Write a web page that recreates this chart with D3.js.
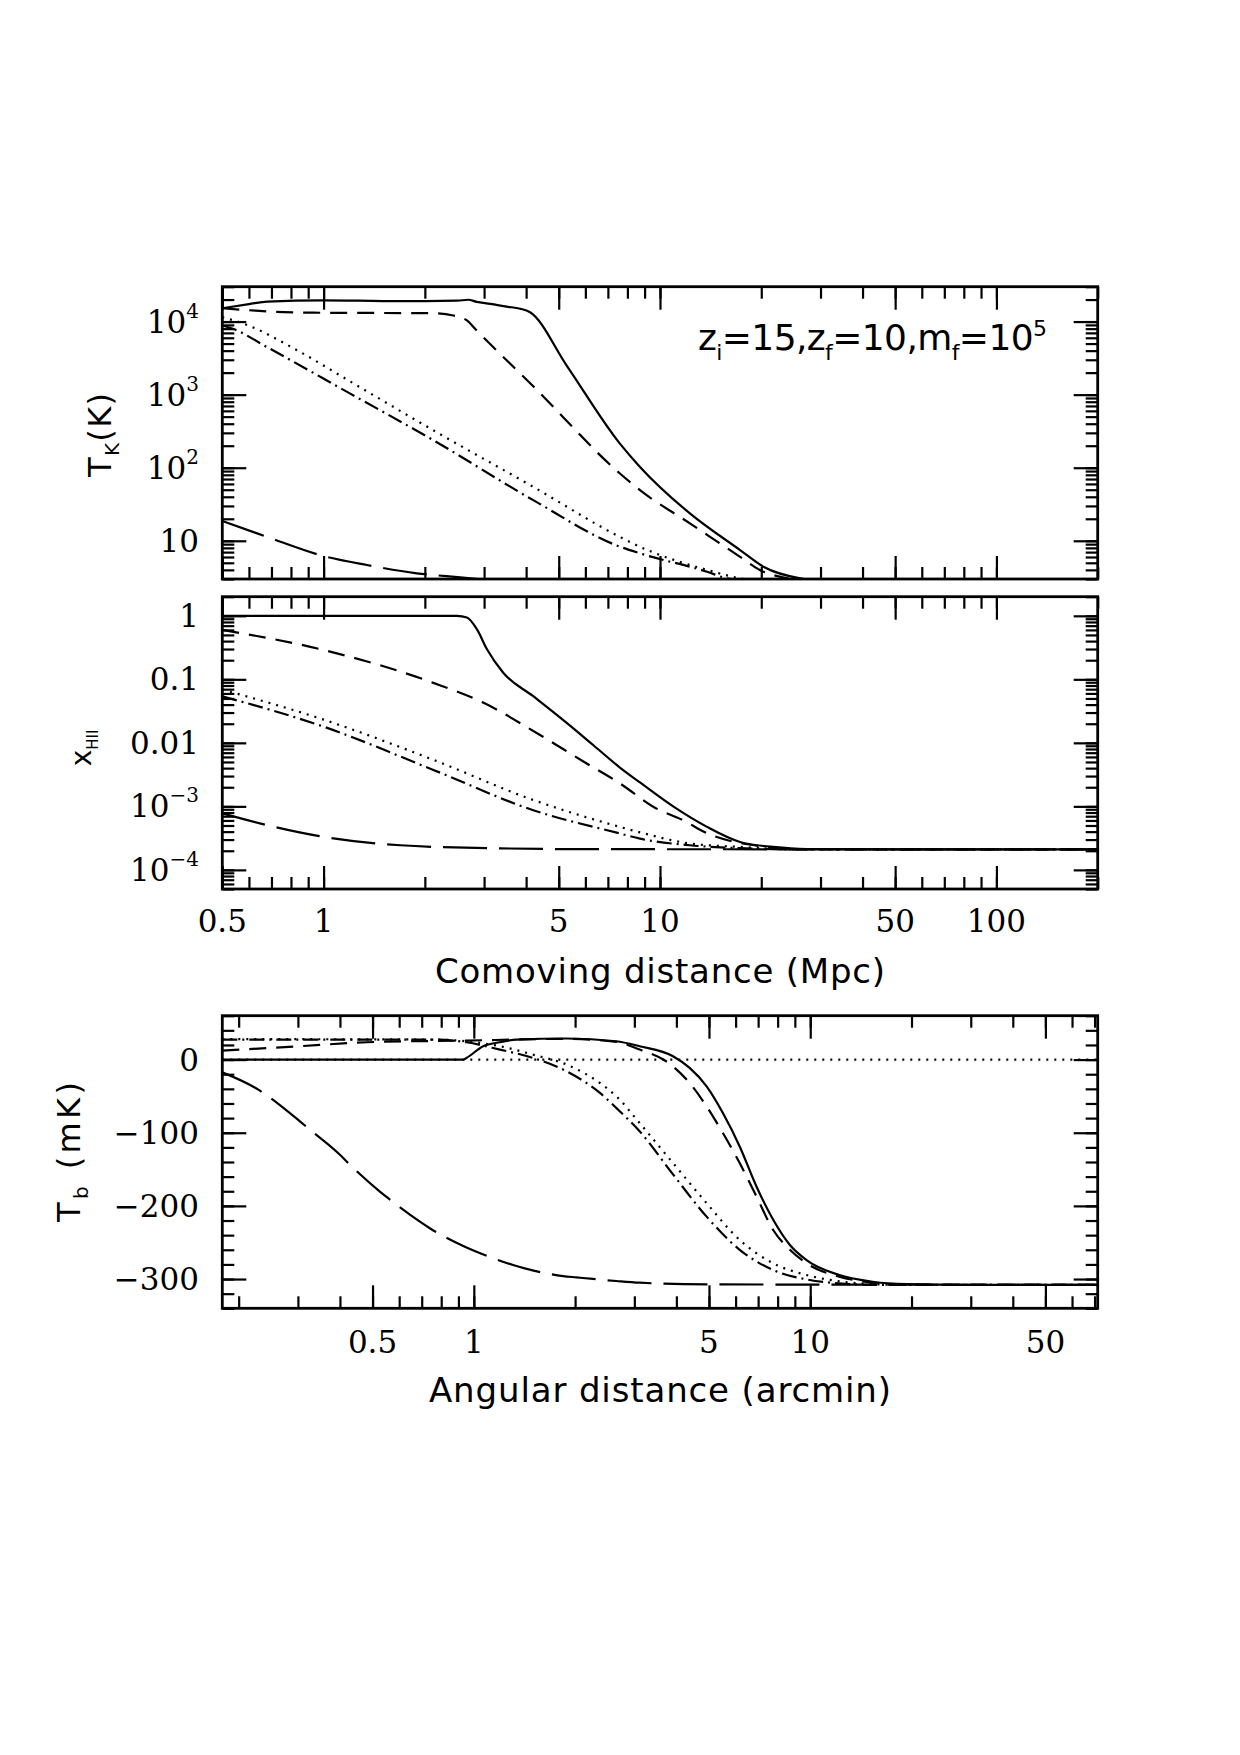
<!DOCTYPE html>
<html>
<head>
<meta charset="utf-8">
<script src="https://cdnjs.cloudflare.com/ajax/libs/d3/7.8.5/d3.min.js"></script>
<style>
body { margin: 0; background: #fff; }
svg { display: block; }
</style>
</head>
<body>
<div id="chart"></div>
<script>
// Width and height
var chart_width  = 1240;
var chart_height = 1755;
var plot_left    = 222.3;
var plot_right   = 1097.7;

// axis ranges
var dist_domain = [0.5, 200];
var ang_domain  = [0.1788, 71.52];
var tk_domain   = [3, 3e4];
var xhii_domain = [5e-5, 2];
var tb_domain   = [-340, 60];

// tick labels
var dist_ticks  = [0.5, 1, 5, 10, 50, 100];
var dist_labels = ['0.5', '1', '5', '10', '50', '100'];
var ang_ticks   = [0.5, 1, 5, 10, 50];
var ang_labels  = ['0.5', '1', '5', '10', '50'];
var tk_ticks    = [10, 100, 1000, 10000];
var tk_labels   = [['10', ''], ['10', '2'], ['10', '3'], ['10', '4']];
var xhii_ticks  = [1, 0.1, 0.01, 1e-3, 1e-4];
var xhii_labels = [['1', ''], ['0.1', ''], ['0.01', ''], ['10', '\u22123'], ['10', '\u22124']];
var tb_ticks    = [0, -100, -200, -300];
var tb_labels   = ['0', '\u2212100', '\u2212200', '\u2212300'];

// Kinetic temperature T_K (K) vs comoving distance (Mpc)
var tk_solid = [[0.5,15200],[0.6,17300],[0.68,18800],[1.0,19500],[1.5,19100],[2.0,19000],[2.5,19300],
    [2.69,19900],[2.85,18600],[3.13,17500],[3.5,16000],[3.84,15000],[4.11,13400],[5.28,2500],
    [7.6,214],[8.72,102.6],[12.27,23.7],[17.3,7.47],[20.3,4.41],[26.1,3.06],[28,2.9]];
var tk_dashed = [[0.5,15200],[0.6,14300],[0.761,13440],[1.0,13200],[1.5,13100],[2.12,13030],
    [2.43,12110],[2.667,10350],[2.855,7500],[4.2,1300],[7.6,83.4],[8.72,49.3],[12.27,17.3],
    [17.3,6.04],[19.8,3.98],[24.3,3.0],[25,2.9]];
var tk_dotted = [[0.5,11480],[0.579,9340],[0.853,3820],[1.2,1515],[2.12,325],[4.2,54.7],
    [7.6,11.3],[8.72,8.28],[13.8,4.0],[17.3,3.06],[18.5,2.9]];
var tk_dashdot = [[0.5,8850],[0.54,7900],[0.679,4470],[1.2,1032],[2.12,238],[4.2,36],
    [7.6,8.3],[8.72,6.73],[13.8,3.77],[15.8,3.06],[17,2.9]];
var tk_longdash = [[0.5,18.7],[0.679,11.3],[1.0,6.18],[1.346,4.66],[1.893,3.59],[2.55,3.16],[3.0,2.95]];

// Ionized fraction x_HII vs comoving distance (Mpc)
var xhii_solid = [[0.5,1],[2.49,1],[2.667,0.94],[2.855,0.616],[3.06,0.297],[3.42,0.127],
    [4.2,0.0542],[5.28,0.0206],[6.34,0.00916],[7.6,0.00409],[8.72,0.00238],[10.97,9.9e-4],
    [13.8,4.75e-4],[17.3,2.75e-4],[21.7,2.3e-4],[27.3,2.13e-4],[50,2.1e-4],[200,2.1e-4]];
var xhii_dashed = [[0.5,0.6],[1,0.29],[2.12,0.088],[2.99,0.0427],[4.3,0.0143],[5.92,0.00508],
    [7.6,0.0023],[9.6,9.7e-4],[11.9,5.8e-4],[13.5,3.97e-4],[16.2,2.85e-4],[19.4,2.41e-4],
    [22.7,2.15e-4],[30,2.1e-4],[200,2.1e-4]];
var xhii_dotted = [[0.5,0.069],[1,0.0232],[2.12,0.0054],[4.2,1.26e-3],[7.6,4.75e-4],[8.72,3.9e-4],
    [12.27,2.6e-4],[17.3,2.3e-4],[25,2.1e-4],[200,2.1e-4]];
var xhii_dashdot = [[0.5,0.054],[1,0.018],[2.12,3.75e-3],[4.2,8.7e-4],[7.6,3.74e-4],[8.72,3.1e-4],
    [12.27,2.44e-4],[17.3,2.2e-4],[25,2.1e-4],[200,2.1e-4]];
var xhii_longdash = [[0.5,7.75e-4],[0.679,5.06e-4],[1,3.31e-4],[1.69,2.44e-4],[3.35,2.18e-4],
    [6,2.12e-4],[200,2.1e-4]];

// Brightness temperature T_b (mK) vs angular distance (arcmin)
var tb_zero = [[0.1788,0],[71.52,0]];
var tb_solid = [[0.1788,0],[0.929,0],[0.951,2.3],[1.066,18.3],[1.195,23.7],[1.34,27.4],[1.886,28.8],
    [2.65,25.1],[3.11,18.3],[3.91,4.6],[4.38,-11.4],[4.92,-36.5],[5.5,-73],[6.17,-118.7],
    [6.92,-173.5],[7.76,-219],[8.7,-253.4],[9.75,-274],[12.2,-294.5],[15.34,-303.7],
    [19.25,-307],[30,-308],[71.52,-308]];
var tb_dashed = [[0.1788,12.3],[0.304,18.3],[0.48,23.7],[0.951,26],[1.886,28.3],[2.65,24.2],
    [3.11,13.7],[3.73,-2.3],[4.38,-32],[4.92,-64],[5.5,-100.4],[6.17,-141.5],[6.92,-187],
    [7.76,-233],[8.7,-260],[9.75,-278.5],[12.2,-296.8],[15.34,-305],[19.25,-308],[71.52,-308]];
var tb_dotted = [[0.1788,28],[0.757,27.4],[0.951,25],[1.195,18.3],[1.5,6.8],[1.886,-6.8],
    [2.37,-32],[2.65,-50],[3.11,-86.7],[3.91,-141.5],[4.92,-196.3],[6.17,-246.6],[7.76,-278.5],
    [9.75,-294.5],[12.2,-303],[15.34,-307],[20,-308],[71.52,-308]];
var tb_dashdot = [[0.1788,27.4],[0.757,27.4],[0.951,23.7],[1.195,13.7],[1.5,2.3],[1.886,-16],
    [2.37,-45.6],[2.65,-66],[3.11,-98],[3.91,-157],[4.92,-214.7],[6.17,-260],[7.76,-287.7],
    [9.75,-300.5],[12.2,-306],[15.34,-308],[71.52,-308]];
var tb_longdash = [[0.1788,-17.4],[0.2288,-41.1],[0.2449,-50.3],[0.3042,-84.5],[0.3258,-95.9],
    [0.3999,-130.1],[0.4233,-141.5],[0.5257,-180.4],[0.5565,-189.5],[0.6913,-221.5],[0.74,-230.5],
    [0.9403,-255.8],[1.0186,-262.6],[1.308,-280.8],[1.417,-285.4],[1.842,-295.9],[2.018,-297.7],
    [2.653,-302.7],[3.11,-305],[4.92,-307.3],[71.52,-308]];

// line styles
var dash = {
    solid: null,
    dashed: '17,10',
    dotted: '2,6',
    dashdot: '15,5,2,5',
    longdash: '44,12'
};

var serif = '"DejaVu Serif", serif';
var sans  = '"DejaVu Sans", sans-serif';

// Create SVG
var svg = d3.select('#chart')
    .append('svg')
    .attr('width', chart_width)
    .attr('height', chart_height);

svg.append('rect').attr('width', chart_width).attr('height', chart_height).attr('fill', '#fff');

var x_dist = d3.scaleLog().domain(dist_domain).range([plot_left, plot_right]);
var x_ang  = d3.scaleLog().domain(ang_domain).range([plot_left, plot_right]);
var y_tk   = d3.scaleLog().domain(tk_domain).range([579, 286.7]);
var y_xhii = d3.scaleLog().domain(xhii_domain).range([889, 596.7]);
var y_tb   = d3.scaleLinear().domain(tb_domain).range([1308.3, 1015.7]);

function log_minor(scale){
    var d = scale.domain(), out = [];
    for (var e = Math.floor(Math.log10(d[0])); e <= Math.ceil(Math.log10(d[1])); e++){
        for (var m = 1; m <= 9; m++){
            var v = +(m * Math.pow(10, e)).toPrecision(6);
            if (v >= d[0] * 0.999 && v <= d[1] * 1.001) out.push(v);
        }
    }
    return out;
}

function add_ticks(g, axis, pos, values, len){
    var a = axis.tickValues(values).tickSize(-len).tickFormat('');
    var t = g.append('g').attr('transform', pos).call(a);
    t.select('.domain').remove();
    t.selectAll('line').attr('stroke', '#000').attr('stroke-width', 2.2);
}

function draw_panel(x, y, x_major, x_minor, y_major, y_minor, series, id){
    var r = x.range(), yr = y.range();
    var top = yr[1], bottom = yr[0];
    var g = svg.append('g');

    svg.append('clipPath').attr('id', id)
        .append('rect')
        .attr('x', r[0]).attr('y', top)
        .attr('width', r[1] - r[0]).attr('height', bottom - top);

    [[x_minor, 12], [x_major, 23]].forEach(function(p){
        add_ticks(g, d3.axisBottom(x), 'translate(0,' + bottom + ')', p[0], p[1]);
        add_ticks(g, d3.axisTop(x), 'translate(0,' + top + ')', p[0], p[1]);
    });
    [[y_minor, 12], [y_major, 24]].forEach(function(p){
        add_ticks(g, d3.axisLeft(y), 'translate(' + r[0] + ',0)', p[0], p[1]);
        add_ticks(g, d3.axisRight(y), 'translate(' + r[1] + ',0)', p[0], p[1]);
    });

    var line = d3.line()
        .x(function(d){ return x(d[0]); })
        .y(function(d){ return y(d[1]); })
        .curve(d3.curveMonotoneX);

    g.append('g').attr('clip-path', 'url(#' + id + ')')
        .selectAll('path')
        .data(series)
        .enter()
        .append('path')
        .attr('d', function(d){ return line(d.data); })
        .attr('fill', 'none')
        .attr('stroke', '#000')
        .attr('stroke-width', 2.2)
        .attr('stroke-dasharray', function(d){ return dash[d.style]; });

    g.append('rect')
        .attr('x', r[0]).attr('y', top)
        .attr('width', r[1] - r[0]).attr('height', bottom - top)
        .attr('fill', 'none')
        .attr('stroke', '#000')
        .attr('stroke-width', 2.8);
}

var tb_minor = d3.range(tb_domain[0], tb_domain[1] + 1, 20);

draw_panel(x_dist, y_tk, dist_ticks, log_minor(x_dist), tk_ticks, log_minor(y_tk), [
    {data: tk_solid, style: 'solid'},
    {data: tk_dashed, style: 'dashed'},
    {data: tk_dotted, style: 'dotted'},
    {data: tk_dashdot, style: 'dashdot'},
    {data: tk_longdash, style: 'longdash'}
], 'clip1');

draw_panel(x_dist, y_xhii, dist_ticks, log_minor(x_dist), xhii_ticks, log_minor(y_xhii), [
    {data: xhii_solid, style: 'solid'},
    {data: xhii_dashed, style: 'dashed'},
    {data: xhii_dotted, style: 'dotted'},
    {data: xhii_dashdot, style: 'dashdot'},
    {data: xhii_longdash, style: 'longdash'}
], 'clip2');

draw_panel(x_ang, y_tb, ang_ticks, log_minor(x_ang), tb_ticks, tb_minor, [
    {data: tb_zero, style: 'dotted'},
    {data: tb_solid, style: 'solid'},
    {data: tb_dashed, style: 'dashed'},
    {data: tb_dotted, style: 'dotted'},
    {data: tb_dashdot, style: 'dashdot'},
    {data: tb_longdash, style: 'longdash'}
], 'clip3');

// y tick labels (with optional superscript)
function y_labels(y, ticks, labels){
    ticks.forEach(function(v, i){
        var lab = labels[i];
        var t = svg.append('text')
            .attr('x', 199)
            .attr('y', y(v))
            .attr('text-anchor', 'end')
            .attr('dominant-baseline', 'central')
            .style('font-family', serif)
            .style('font-size', '31px');
        if (typeof lab === 'string'){
            t.text(lab);
        } else {
            t.append('tspan').text(lab[0]);
            if (lab[1]) t.append('tspan').attr('dy', -11).style('font-size', '20px').text(lab[1]);
        }
    });
}
y_labels(y_tk, tk_ticks, tk_labels);
y_labels(y_xhii, xhii_ticks, xhii_labels);
y_labels(y_tb, tb_ticks, tb_labels);

// x tick labels
function x_labels(x, ticks, labels, base){
    svg.selectAll(null)
        .data(ticks)
        .enter()
        .append('text')
        .attr('x', function(d){ return x(d); })
        .attr('y', base)
        .attr('text-anchor', 'middle')
        .style('font-family', serif)
        .style('font-size', '31px')
        .text(function(d, i){ return labels[i]; });
}
x_labels(x_dist, dist_ticks, dist_labels, 932);
x_labels(x_ang, ang_ticks, ang_labels, 1353);

// axis titles
svg.append('text')
    .attr('x', 660).attr('y', 983)
    .attr('text-anchor', 'middle')
    .attr('textLength', 450).attr('lengthAdjust', 'spacing')
    .style('font-family', sans).style('font-size', '34px')
    .text('Comoving distance (Mpc)');

svg.append('text')
    .attr('x', 660).attr('y', 1402)
    .attr('text-anchor', 'middle')
    .attr('textLength', 462).attr('lengthAdjust', 'spacing')
    .style('font-family', sans).style('font-size', '34px')
    .text('Angular distance (arcmin)');

function y_title(tx, ty, parts, len){
    var t = svg.append('text')
        .attr('transform', 'translate(' + tx + ',' + ty + ') rotate(-90)')
        .attr('text-anchor', 'middle')
        .style('font-family', sans)
        .style('font-size', '32px');
    if (len) t.attr('textLength', len).attr('lengthAdjust', 'spacing');
    parts.forEach(function(p){
        var s = t.append('tspan').text(p[0]);
        if (p[1]) s.attr('dy', p[1]);
        if (p[2]) s.style('font-size', p[2]);
    });
}
y_title(111, 435, [['T'], ['K', 8, '20px'], ['(K)', -8]], 84);
y_title(91, 748, [['x', 0, '28px'], ['HII', 7, '15px']], 0);
y_title(80, 1152, [['T'], ['b', 8, '20px'], [' (mK)', -8]], 140);

// model parameters
var note = svg.append('text')
    .attr('x', 698).attr('y', 350)
    .attr('textLength', 349).attr('lengthAdjust', 'spacing')
    .style('font-family', sans)
    .style('font-size', '36px');
[['z'], ['i', 10, '22px'], ['=15,z', -10], ['f', 10, '22px'], ['=10,m', -10], ['f', 10, '22px'],
 ['=10', -10], ['5', -14, '22px']].forEach(function(p){
    var s = note.append('tspan').text(p[0]);
    if (p[1]) s.attr('dy', p[1]);
    if (p[2]) s.style('font-size', p[2]);
});
</script>
</body>
</html>
